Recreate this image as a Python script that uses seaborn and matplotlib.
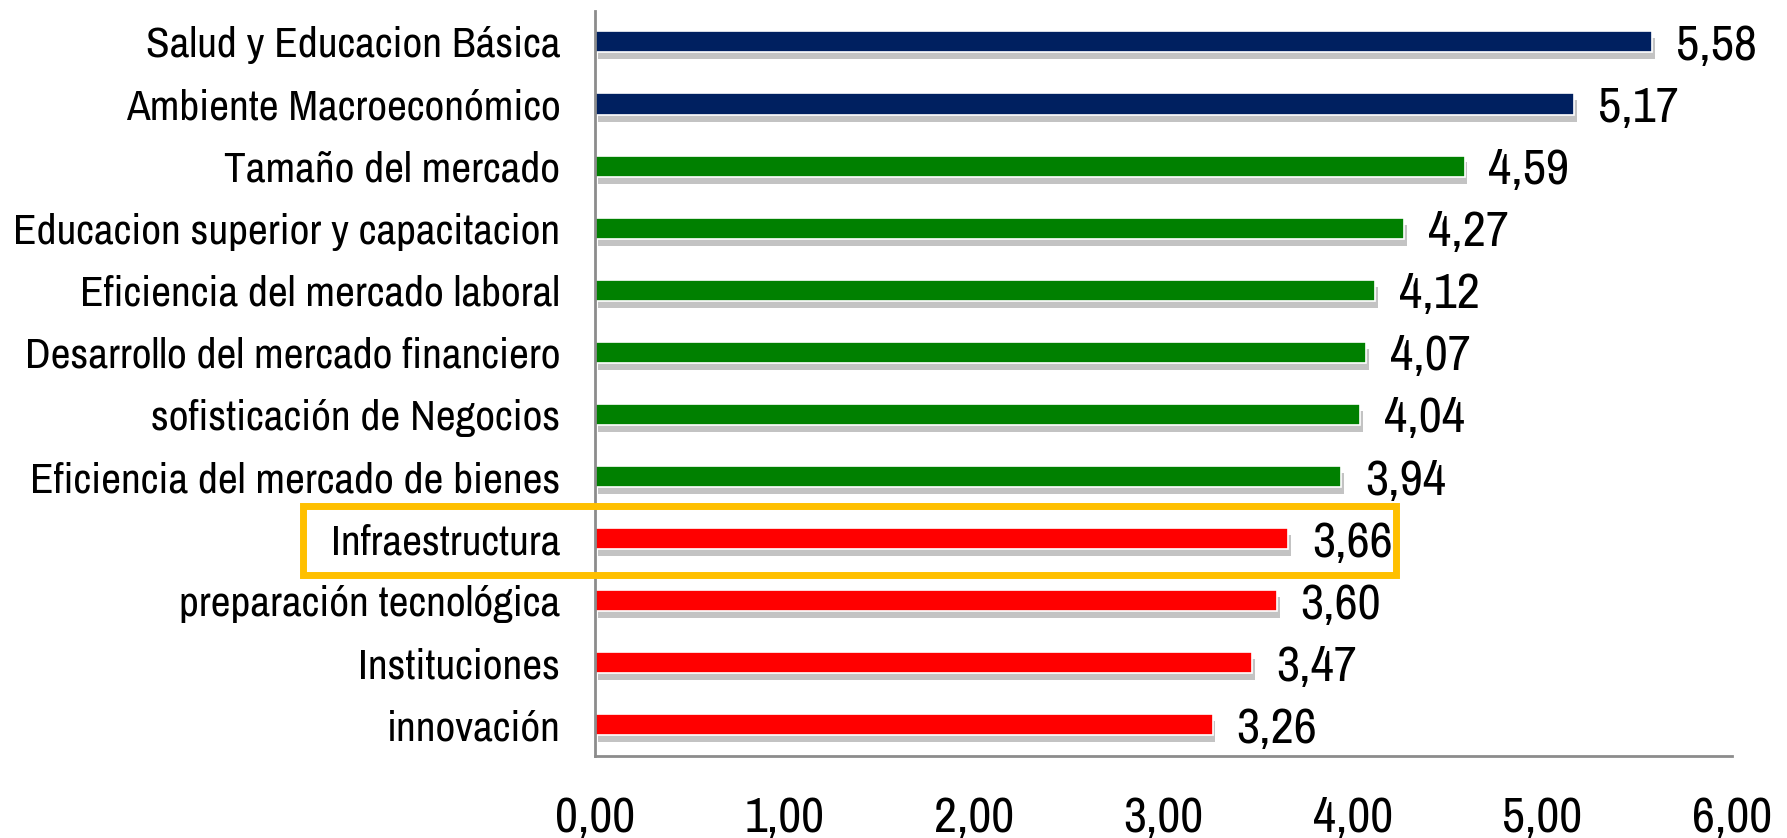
import matplotlib
matplotlib.use("Agg")
import matplotlib.pyplot as plt
import matplotlib.patheffects as pe
from matplotlib.patches import Rectangle
from matplotlib.ticker import FixedLocator, FuncFormatter
import seaborn as sns

categories = [
    "Salud y Educacion Básica",
    "Ambiente Macroeconómico",
    "Tamaño del mercado",
    "Educacion superior y capacitacion",
    "Eficiencia del mercado laboral",
    "Desarrollo del mercado financiero",
    "sofisticación de Negocios",
    "Eficiencia del mercado de bienes",
    "Infraestructura",
    "preparación tecnológica",
    "Instituciones",
    "innovación",
]
values = [5.58, 5.17, 4.59, 4.27, 4.12, 4.07, 4.04, 3.94, 3.66, 3.60, 3.47, 3.26]
groups = ["navy", "navy", "green", "green", "green", "green", "green", "green",
          "red", "red", "red", "red"]
group_colors = {"navy": "#002060", "green": "#008000", "red": "#FF0000"}
x_ticks = [0, 1, 2, 3, 4, 5, 6]
highlight = "Infraestructura"

sns.set_theme(style="white")
plt.rcParams["font.family"] = ["Archivo Narrow", "DejaVu Sans"]

fig = plt.figure(figsize=(17.87, 8.38), dpi=100)
ax = fig.add_axes([0.333, 0.098, 0.636, 0.889])

palette = [group_colors[g] for g in groups]
sns.barplot(x=values, y=categories, hue=categories, palette=palette, saturation=1,
            legend=False, orient="h", width=0.34, ax=ax,
            edgecolor="white", linewidth=1.2)

for p in ax.patches:
    p.set_path_effects([pe.SimplePatchShadow(offset=(2, -5), shadow_rgbFace="#7a7a7a", alpha=0.45),
                        pe.Normal()])

for cont in ax.containers:
    texts = ax.bar_label(cont, labels=[f"{v:.2f}".replace(".", ",") for v in cont.datavalues],
                         padding=17, fontsize=36.5, color="black")
    for t in texts:
        t.set_verticalalignment("center_baseline")

ax.set_xlim(0, 6)
ax.set_ylim(len(categories) - 0.5, -0.5)
ax.set_xticks(x_ticks)
ax.xaxis.set_major_formatter(FuncFormatter(lambda v, p: f"{v:.2f}".replace(".", ",")))
ax.tick_params(axis="x", length=0, pad=29, labelsize=36, labelcolor="black")

ax.tick_params(axis="y", which="major", length=0, pad=25, labelsize=31.2, labelcolor="black")
ax.yaxis.set_minor_locator(FixedLocator([i - 0.5 for i in range(len(categories) + 1)]))
ax.tick_params(axis="y", which="minor", length=9.5, width=2, color="#8C8C8C", direction="out")

ax.set_xlabel("")
ax.set_ylabel("")
for s in ["top", "right"]:
    ax.spines[s].set_visible(False)
for s in ["left", "bottom"]:
    ax.spines[s].set_color("#8C8C8C")
    ax.spines[s].set_linewidth(2)

idx = categories.index(highlight)
rect = Rectangle((-1.54, idx - 0.52), 5.77, 1.1, fill=False, edgecolor="#FFC000",
                 linewidth=5, clip_on=False, zorder=5)
ax.add_patch(rect)

fig.savefig("out.png", dpi=100, facecolor="white")
